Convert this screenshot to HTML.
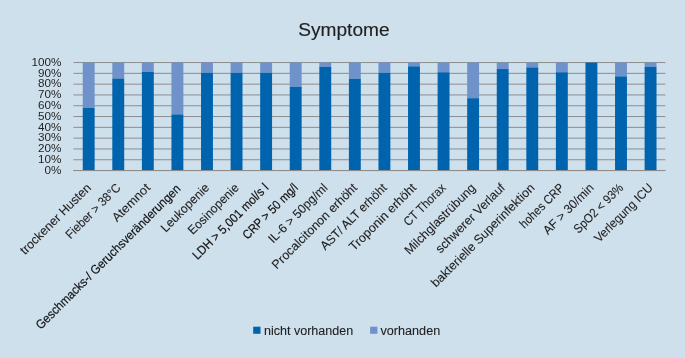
<!DOCTYPE html>
<html lang="de"><head><meta charset="utf-8"><title>Symptome</title>
<style>html,body{margin:0;padding:0;background:#cfe0ed;overflow:hidden}svg{display:block}</style></head>
<body>
<svg width="685" height="358" viewBox="0 0 685 358" font-family="'Liberation Sans', sans-serif" fill="#1f1f1f">
<rect width="685" height="358" fill="#cfe0ed"/>
<line x1="73.4" x2="665.35" y1="170.55" y2="170.55" stroke="#8c8c8c" stroke-width="1.0"/>
<text x="61.5" y="173.80" font-size="11.7" text-anchor="end">0%</text>
<line x1="73.4" x2="665.35" y1="159.75" y2="159.75" stroke="#8c8c8c" stroke-width="1.0"/>
<text x="61.5" y="163.00" font-size="11.7" text-anchor="end">10%</text>
<line x1="73.4" x2="665.35" y1="148.95" y2="148.95" stroke="#8c8c8c" stroke-width="1.0"/>
<text x="61.5" y="152.20" font-size="11.7" text-anchor="end">20%</text>
<line x1="73.4" x2="665.35" y1="138.15" y2="138.15" stroke="#8c8c8c" stroke-width="1.0"/>
<text x="61.5" y="141.40" font-size="11.7" text-anchor="end">30%</text>
<line x1="73.4" x2="665.35" y1="127.35" y2="127.35" stroke="#8c8c8c" stroke-width="1.0"/>
<text x="61.5" y="130.60" font-size="11.7" text-anchor="end">40%</text>
<line x1="73.4" x2="665.35" y1="116.55" y2="116.55" stroke="#8c8c8c" stroke-width="1.0"/>
<text x="61.5" y="119.80" font-size="11.7" text-anchor="end">50%</text>
<line x1="73.4" x2="665.35" y1="105.75" y2="105.75" stroke="#8c8c8c" stroke-width="1.0"/>
<text x="61.5" y="109.00" font-size="11.7" text-anchor="end">60%</text>
<line x1="73.4" x2="665.35" y1="94.95" y2="94.95" stroke="#8c8c8c" stroke-width="1.0"/>
<text x="61.5" y="98.20" font-size="11.7" text-anchor="end">70%</text>
<line x1="73.4" x2="665.35" y1="84.15" y2="84.15" stroke="#8c8c8c" stroke-width="1.0"/>
<text x="61.5" y="87.40" font-size="11.7" text-anchor="end">80%</text>
<line x1="73.4" x2="665.35" y1="73.35" y2="73.35" stroke="#8c8c8c" stroke-width="1.0"/>
<text x="61.5" y="76.60" font-size="11.7" text-anchor="end">90%</text>
<line x1="73.4" x2="665.35" y1="62.55" y2="62.55" stroke="#8c8c8c" stroke-width="1.0"/>
<text x="61.5" y="65.80" font-size="11.7" text-anchor="end">100%</text>
<rect x="82.74" y="62.55" width="11.9" height="45.36" fill="#6e92c9"/>
<rect x="82.74" y="107.91" width="11.9" height="62.64" fill="#0063ad"/>
<text transform="translate(91.79 188.55) rotate(-45)" font-size="12.5" text-anchor="end" textLength="94.4" lengthAdjust="spacingAndGlyphs" stroke="#1f1f1f" stroke-width="0.1">trockener Husten</text>
<rect x="112.31" y="62.55" width="11.9" height="15.98" fill="#6e92c9"/>
<rect x="112.31" y="78.53" width="11.9" height="92.02" fill="#0063ad"/>
<text transform="translate(121.36 188.55) rotate(-45)" font-size="12.5" text-anchor="end" textLength="71.9" lengthAdjust="spacingAndGlyphs" stroke="#1f1f1f" stroke-width="0.1">Fieber > 38°C</text>
<rect x="141.88" y="62.55" width="11.9" height="9.40" fill="#6e92c9"/>
<rect x="141.88" y="71.95" width="11.9" height="98.60" fill="#0063ad"/>
<text transform="translate(150.93 188.55) rotate(-45)" font-size="12.5" text-anchor="end" textLength="48.0" lengthAdjust="spacingAndGlyphs" stroke="#1f1f1f" stroke-width="0.1">Atemnot</text>
<rect x="171.45" y="62.55" width="11.9" height="51.84" fill="#6e92c9"/>
<rect x="171.45" y="114.39" width="11.9" height="56.16" fill="#0063ad"/>
<text transform="translate(181.30 189.55) rotate(-45)" font-size="12.5" text-anchor="end" textLength="198.8" lengthAdjust="spacingAndGlyphs" stroke="#111" stroke-width="0.2" fill="#111">Geschmacks-/ Geruchsveränderungen</text>
<rect x="201.03" y="62.55" width="11.9" height="10.26" fill="#6e92c9"/>
<rect x="201.03" y="72.81" width="11.9" height="97.74" fill="#0063ad"/>
<text transform="translate(210.08 188.55) rotate(-45)" font-size="12.5" text-anchor="end" textLength="62.7" lengthAdjust="spacingAndGlyphs" stroke="#1f1f1f" stroke-width="0.1">Leukopenie</text>
<rect x="230.60" y="62.55" width="11.9" height="10.26" fill="#6e92c9"/>
<rect x="230.60" y="72.81" width="11.9" height="97.74" fill="#0063ad"/>
<text transform="translate(239.65 188.55) rotate(-45)" font-size="12.5" text-anchor="end" textLength="66.2" lengthAdjust="spacingAndGlyphs" stroke="#1f1f1f" stroke-width="0.1">Eosinopenie</text>
<rect x="260.17" y="62.55" width="11.9" height="10.26" fill="#6e92c9"/>
<rect x="260.17" y="72.81" width="11.9" height="97.74" fill="#0063ad"/>
<text transform="translate(269.22 188.55) rotate(-45)" font-size="12.5" text-anchor="end" textLength="101.3" lengthAdjust="spacingAndGlyphs" stroke="#111" stroke-width="0.2" fill="#111">LDH > 5,001 mol/s l</text>
<rect x="289.74" y="62.55" width="11.9" height="24.30" fill="#6e92c9"/>
<rect x="289.74" y="86.85" width="11.9" height="83.70" fill="#0063ad"/>
<text transform="translate(298.79 188.55) rotate(-45)" font-size="12.5" text-anchor="end" textLength="72.6" lengthAdjust="spacingAndGlyphs" stroke="#111" stroke-width="0.2" fill="#111">CRP > 50 mg/l</text>
<rect x="319.32" y="62.55" width="11.9" height="4.32" fill="#6e92c9"/>
<rect x="319.32" y="66.87" width="11.9" height="103.68" fill="#0063ad"/>
<text transform="translate(328.37 188.55) rotate(-45)" font-size="12.5" text-anchor="end" textLength="78.1" lengthAdjust="spacingAndGlyphs" stroke="#1f1f1f" stroke-width="0.1">IL-6 > 50pg/ml</text>
<rect x="348.89" y="62.55" width="11.9" height="16.20" fill="#6e92c9"/>
<rect x="348.89" y="78.75" width="11.9" height="91.80" fill="#0063ad"/>
<text transform="translate(357.94 188.55) rotate(-45)" font-size="12.5" text-anchor="end" textLength="114.7" lengthAdjust="spacingAndGlyphs" stroke="#1f1f1f" stroke-width="0.1">Procalcitonon erhöht</text>
<rect x="378.46" y="62.55" width="11.9" height="10.26" fill="#6e92c9"/>
<rect x="378.46" y="72.81" width="11.9" height="97.74" fill="#0063ad"/>
<text transform="translate(387.51 188.55) rotate(-45)" font-size="12.5" text-anchor="end" textLength="88.1" lengthAdjust="spacingAndGlyphs" stroke="#1f1f1f" stroke-width="0.1">AST/ ALT erhöht</text>
<rect x="408.03" y="62.55" width="11.9" height="3.78" fill="#6e92c9"/>
<rect x="408.03" y="66.33" width="11.9" height="104.22" fill="#0063ad"/>
<text transform="translate(417.08 188.55) rotate(-45)" font-size="12.5" text-anchor="end" textLength="89.1" lengthAdjust="spacingAndGlyphs" stroke="#1f1f1f" stroke-width="0.1">Troponin erhöht</text>
<rect x="437.61" y="62.55" width="11.9" height="9.72" fill="#6e92c9"/>
<rect x="437.61" y="72.27" width="11.9" height="98.28" fill="#0063ad"/>
<text transform="translate(446.66 188.55) rotate(-45)" font-size="12.5" text-anchor="end" textLength="54.0" lengthAdjust="spacingAndGlyphs" stroke="#1f1f1f" stroke-width="0.1">CT Thorax</text>
<rect x="467.18" y="62.55" width="11.9" height="35.64" fill="#6e92c9"/>
<rect x="467.18" y="98.19" width="11.9" height="72.36" fill="#0063ad"/>
<text transform="translate(476.23 188.55) rotate(-45)" font-size="12.5" text-anchor="end" textLength="94.5" lengthAdjust="spacingAndGlyphs" stroke="#1f1f1f" stroke-width="0.1">Milchglastrübung</text>
<rect x="496.75" y="62.55" width="11.9" height="6.48" fill="#6e92c9"/>
<rect x="496.75" y="69.03" width="11.9" height="101.52" fill="#0063ad"/>
<text transform="translate(505.80 188.55) rotate(-45)" font-size="12.5" text-anchor="end" textLength="92.3" lengthAdjust="spacingAndGlyphs" stroke="#1f1f1f" stroke-width="0.1">schwerer Verlauf</text>
<rect x="526.32" y="62.55" width="11.9" height="4.86" fill="#6e92c9"/>
<rect x="526.32" y="67.41" width="11.9" height="103.14" fill="#0063ad"/>
<text transform="translate(535.37 188.55) rotate(-45)" font-size="12.5" text-anchor="end" textLength="140.4" lengthAdjust="spacingAndGlyphs" stroke="#1f1f1f" stroke-width="0.1">bakterielle Superinfektion</text>
<rect x="555.90" y="62.55" width="11.9" height="9.72" fill="#6e92c9"/>
<rect x="555.90" y="72.27" width="11.9" height="98.28" fill="#0063ad"/>
<text transform="translate(564.95 188.55) rotate(-45)" font-size="12.5" text-anchor="end" textLength="57.1" lengthAdjust="spacingAndGlyphs" stroke="#1f1f1f" stroke-width="0.1">hohes CRP</text>
<rect x="585.47" y="62.55" width="11.9" height="0.00" fill="#6e92c9"/>
<rect x="585.47" y="62.55" width="11.9" height="108.00" fill="#0063ad"/>
<text transform="translate(594.52 188.55) rotate(-45)" font-size="12.5" text-anchor="end" textLength="65.9" lengthAdjust="spacingAndGlyphs" stroke="#1f1f1f" stroke-width="0.1">AF > 30/min</text>
<rect x="615.04" y="62.55" width="11.9" height="13.82" fill="#6e92c9"/>
<rect x="615.04" y="76.37" width="11.9" height="94.18" fill="#0063ad"/>
<text transform="translate(624.09 188.55) rotate(-45)" font-size="12.5" text-anchor="end" textLength="64.4" lengthAdjust="spacingAndGlyphs" stroke="#1f1f1f" stroke-width="0.1">SpO2 < 93%</text>
<rect x="644.61" y="62.55" width="11.9" height="4.32" fill="#6e92c9"/>
<rect x="644.61" y="66.87" width="11.9" height="103.68" fill="#0063ad"/>
<text transform="translate(653.66 188.55) rotate(-45)" font-size="12.5" text-anchor="end" textLength="77.1" lengthAdjust="spacingAndGlyphs" stroke="#1f1f1f" stroke-width="0.1">Verlegung ICU</text>
<line x1="73.4" x2="665.35" y1="170.55" y2="170.55" stroke="#8c8c8c" stroke-width="1.0"/>
<text x="343.9" y="36.2" font-size="18.3" text-anchor="middle" stroke="#1f1f1f" stroke-width="0.15" textLength="91.3" lengthAdjust="spacingAndGlyphs">Symptome</text>
<rect x="253.2" y="326.7" width="7.3" height="7.1" fill="#0063ad"/>
<text x="264.0" y="334.7" font-size="12.5" stroke="#1f1f1f" stroke-width="0.1" textLength="89.2" lengthAdjust="spacingAndGlyphs">nicht vorhanden</text>
<rect x="370.1" y="326.7" width="7.3" height="7.1" fill="#6e92c9"/>
<text x="380.5" y="334.7" font-size="12.5" stroke="#1f1f1f" stroke-width="0.1" textLength="59.7" lengthAdjust="spacingAndGlyphs">vorhanden</text>
</svg>
</body></html>
